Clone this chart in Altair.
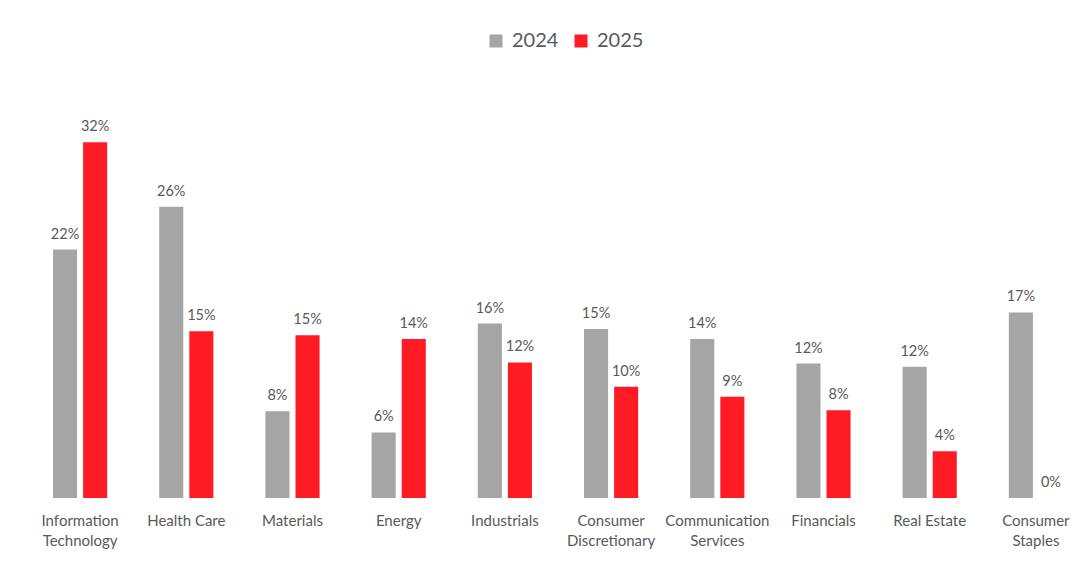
import json
import altair as alt
import pandas as pd

# Sector returns by year
sectors = [
    "Information Technology", "Health Care", "Materials", "Energy",
    "Industrials", "Consumer Discretionary", "Communication Services",
    "Financials", "Real Estate", "Consumer Staples",
]
years = ["2024", "2025"]
values_2024 = [0.2235, 0.262, 0.078, 0.059, 0.157, 0.152, 0.143, 0.121, 0.118, 0.167]
values_2025 = [0.320, 0.150, 0.1465, 0.143, 0.122, 0.100, 0.091, 0.079, 0.042, 0.0]

# How each sector name wraps under the axis
label_lines = {
    "Information Technology": ["Information", "Technology"],
    "Consumer Discretionary": ["Consumer", "Discretionary"],
    "Communication Services": ["Communication", "Services"],
    "Consumer Staples": ["Consumer", "Staples"],
}

rows = []
for s, a, b in zip(sectors, values_2024, values_2025):
    rows.append({"sector": s, "year": years[0], "value": a})
    rows.append({"sector": s, "year": years[1], "value": b})
df = pd.DataFrame(rows)

label_expr = "".join(
    f"datum.value == {json.dumps(k)} ? {json.dumps(v)} : " for k, v in label_lines.items()
) + "datum.value"

FONT = "Lato"
TEXT = "#595959"
colors = ["#A5A5A5", "#FF1B24"]

x = alt.X(
    "sector:N",
    sort=sectors,
    title=None,
    scale=alt.Scale(paddingInner=0.49, paddingOuter=0.245),
    axis=alt.Axis(
        labelExpr=label_expr,
        labelAngle=0,
        labelFont=FONT,
        labelFontSize=15,
        labelColor=TEXT,
        labelLineHeight=20,
        labelPadding=15,
        labelBaseline="top",
        domain=False,
        ticks=False,
        grid=False,
    ),
)
y = alt.Y("value:Q", scale=alt.Scale(domain=[0, 0.35]), axis=None)
xoff = alt.XOffset("year:N", sort=years, scale=alt.Scale(paddingInner=0.2))

base = alt.Chart(df).encode(x=x, xOffset=xoff, y=y)

bars = base.mark_bar(width={"band": 1}).encode(
    color=alt.Color(
        "year:N",
        sort=years,
        scale=alt.Scale(domain=years, range=colors),
        legend=alt.Legend(
            title=None,
            orient="none",
            direction="horizontal",
            legendX=459,
            legendY=-78,
            symbolType="square",
            symbolSize=169,
            symbolStrokeWidth=0,
            symbolOpacity=1,
            labelFont=FONT,
            labelFontSize=20,
            labelColor=TEXT,
            labelOffset=6,
            columnPadding=12,
        ),
    )
)

labels = base.mark_text(
    font=FONT, fontSize=14.5, color=TEXT, baseline="alphabetic", dy=-11
).encode(text=alt.Text("value:Q", format=".0%"))

chart = (
    alt.layer(bars, labels)
    .properties(
        width=1062,
        height=389,
        background="white",
        autosize=alt.AutoSizeParams(type="none"),
        padding={"left": 27, "top": 109, "right": 0, "bottom": 71},
    )
    .configure_view(stroke="transparent", strokeWidth=0)
)

chart.save("out.html", embed_options={"renderer": "svg", "actions": False})
